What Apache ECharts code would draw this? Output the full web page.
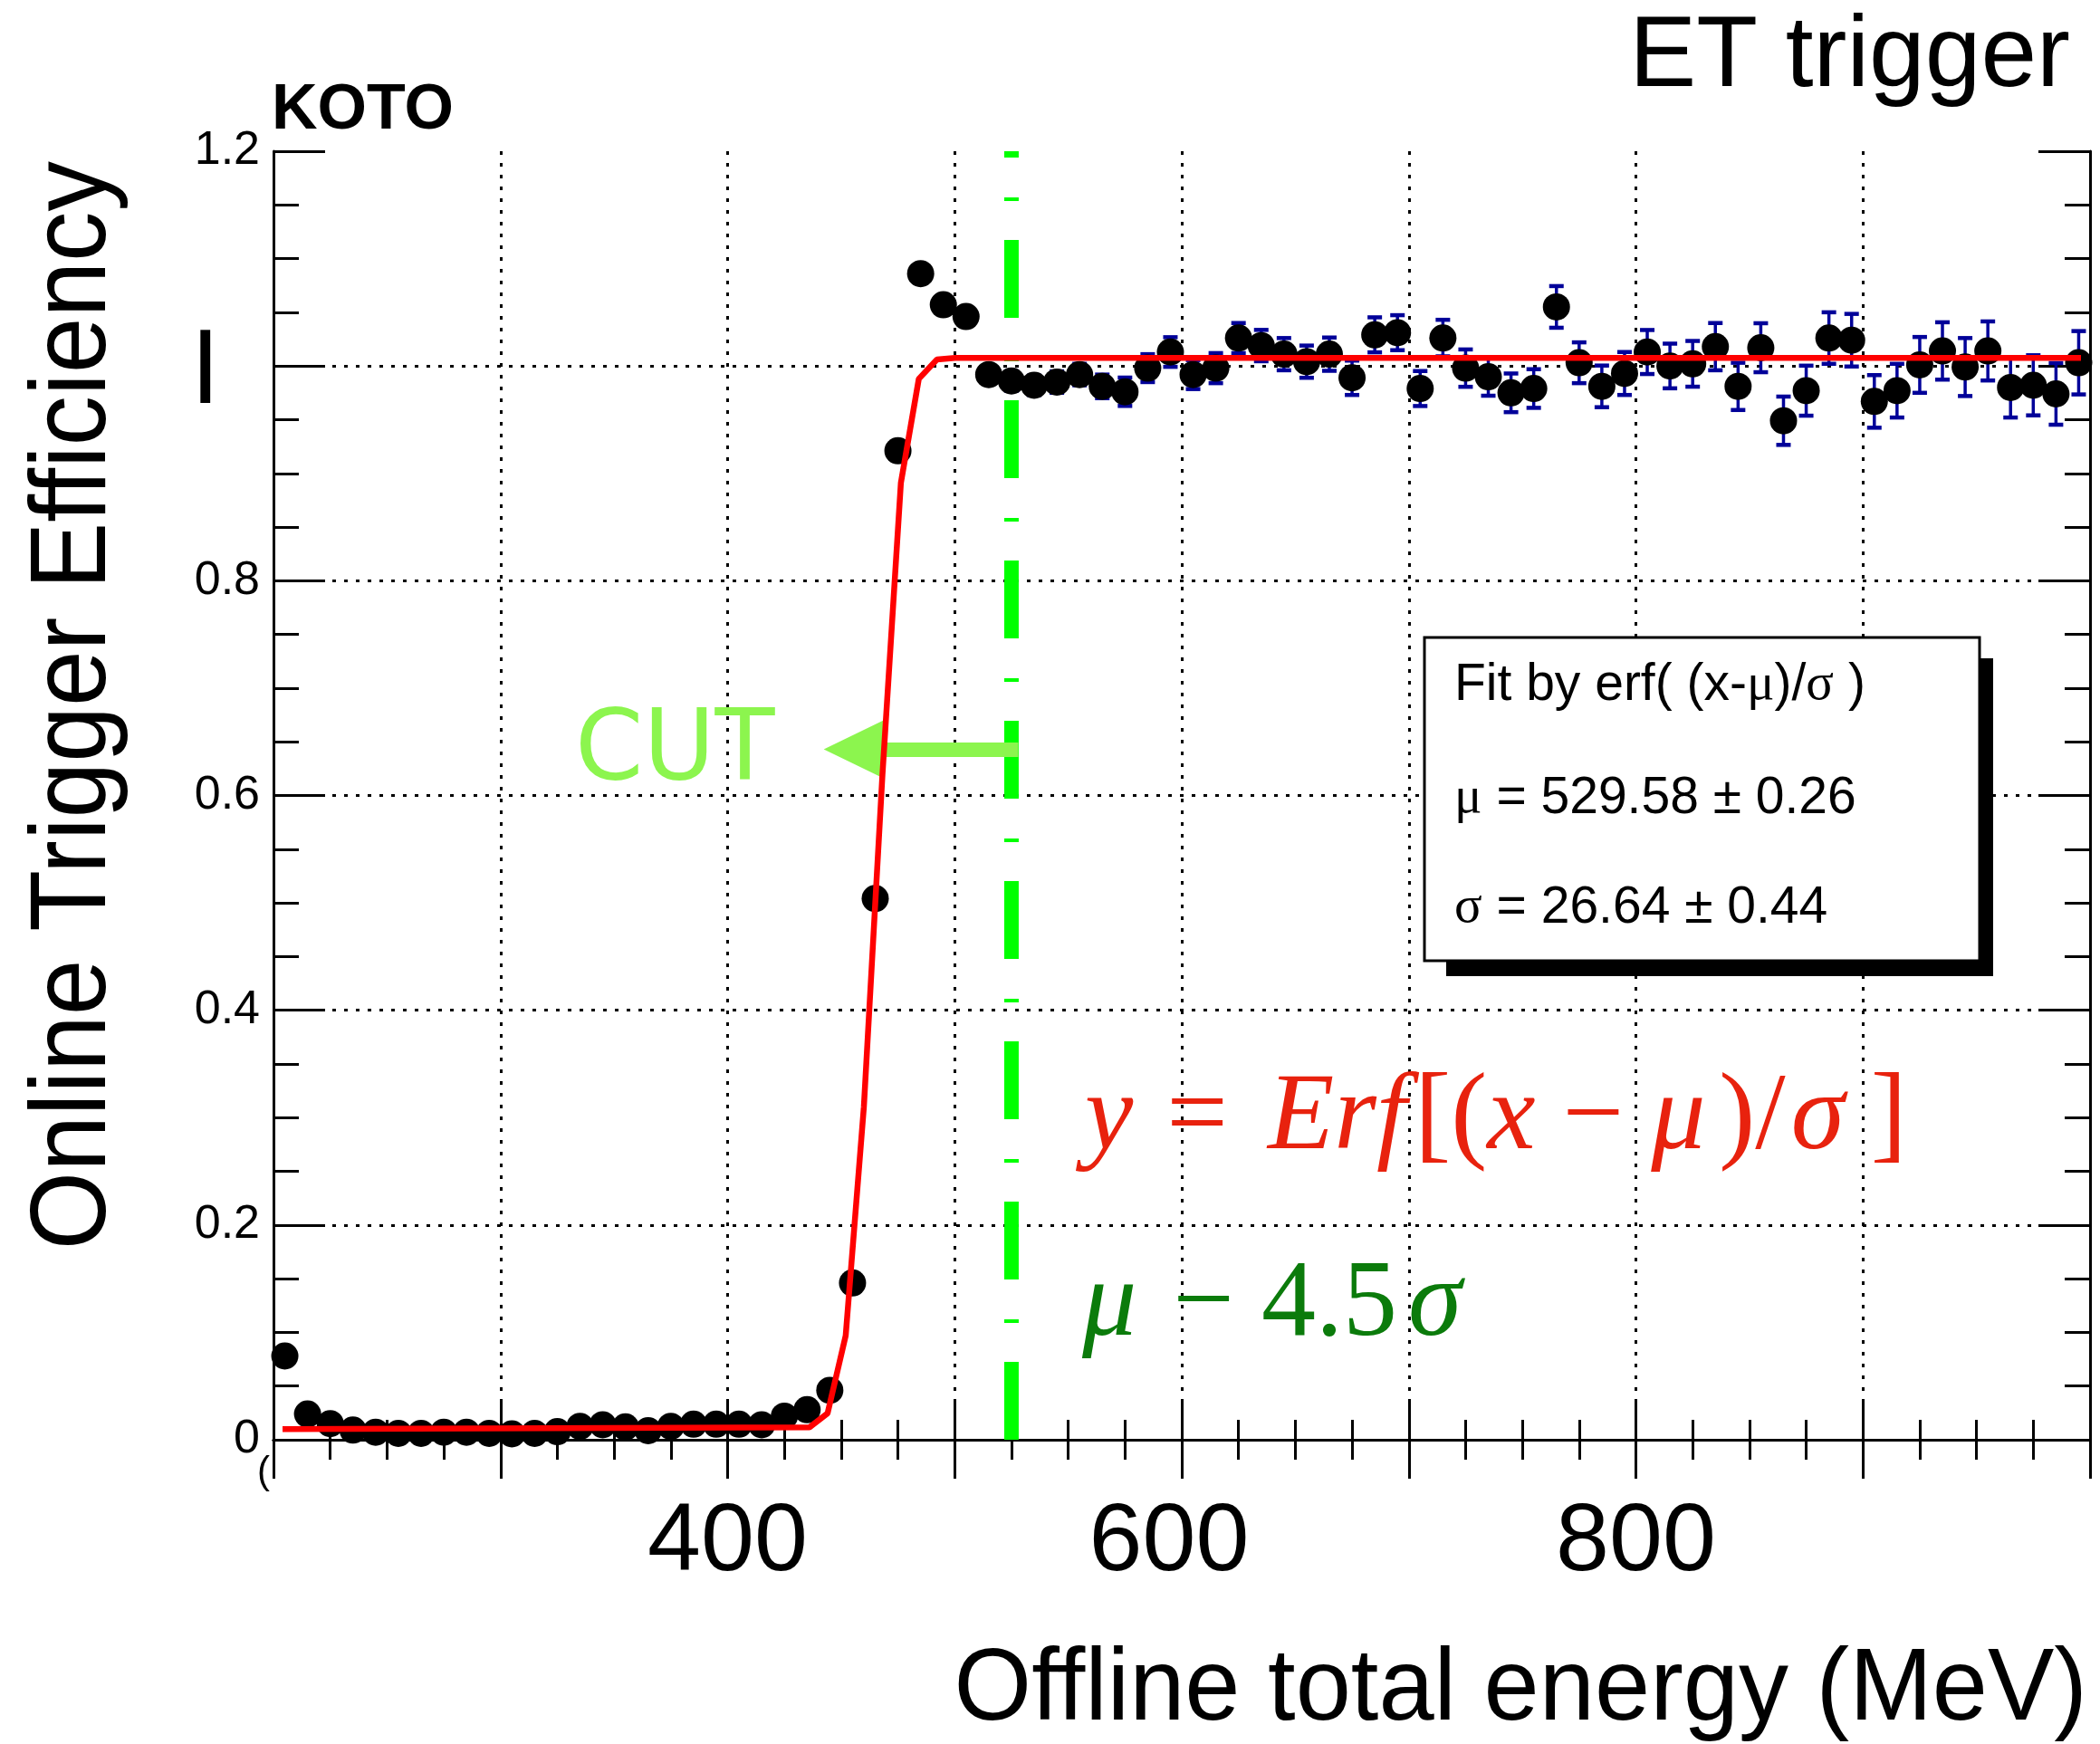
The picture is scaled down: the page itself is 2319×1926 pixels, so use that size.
<!DOCTYPE html>
<html>
<head>
<meta charset="utf-8">
<title>ET trigger efficiency</title>
<script src="https://cdn.jsdelivr.net/npm/echarts@6/dist/echarts.min.js"></script>
<style>
  html, body { margin: 0; padding: 0; background: #fff; }
  #chart { width: 2319px; height: 1926px; }
</style>
</head>
<body>
<div id="chart"></div>
<script>
// 10 MeV bins, centre of each bin (MeV)
const energy = [205, 215, 225, 235, 245, 255, 265, 275, 285, 295,
  305, 315, 325, 335, 345, 355, 365, 375, 385, 395,
  405, 415, 425, 435, 445, 455, 465, 475, 485, 495,
  505, 515, 525, 535, 545, 555, 565, 575, 585, 595,
  605, 615, 625, 635, 645, 655, 665, 675, 685, 695,
  705, 715, 725, 735, 745, 755, 765, 775, 785, 795,
  805, 815, 825, 835, 845, 855, 865, 875, 885, 895,
  905, 915, 925, 935, 945, 955, 965, 975, 985, 995]

const efficiency = [0.078, 0.024, 0.015, 0.009, 0.007, 0.006, 0.006, 0.007, 0.007, 0.006,
  0.0055, 0.006, 0.0075, 0.0125, 0.014, 0.012, 0.0085, 0.0125, 0.0145, 0.0145,
  0.0145, 0.014, 0.022, 0.028, 0.046, 0.146, 0.504, 0.921, 1.086, 1.057,
  1.046, 0.992, 0.986, 0.982, 0.985, 0.992, 0.981, 0.976, 0.998, 1.013,
  0.992, 0.998, 1.026, 1.019, 1.011, 1.004, 1.011, 0.989, 1.029, 1.031,
  0.979, 1.026, 0.998, 0.990, 0.975, 0.979, 1.055, 1.003, 0.981, 0.993,
  1.013, 1.000, 1.002, 1.018, 0.981, 1.017, 0.949, 0.977, 1.026, 1.024,
  0.967, 0.977, 1.001, 1.014, 0.999, 1.014, 0.980, 0.982, 0.974, 1.003]

const effError = [0.004, 0.002, 0.0015, 0.001, 0.001, 0.001, 0.001, 0.001, 0.001, 0.001,
  0.001, 0.001, 0.001, 0.0015, 0.0015, 0.0015, 0.0015, 0.0015, 0.002, 0.002,
  0.002, 0.002, 0.0025, 0.003, 0.004, 0.006, 0.008, 0.006, 0.005, 0.006,
  0.008, 0.008, 0.009, 0.009, 0.010, 0.010, 0.011, 0.0132, 0.013, 0.0138,
  0.0135, 0.014, 0.014, 0.0146, 0.015, 0.015, 0.0155, 0.016, 0.0163, 0.0163,
  0.0163, 0.017, 0.0174, 0.0177, 0.018, 0.018, 0.0194, 0.019, 0.0194, 0.020,
  0.0205, 0.0208, 0.0213, 0.022, 0.022, 0.0228, 0.0225, 0.0233, 0.024, 0.0245,
  0.0245, 0.025, 0.026, 0.0267, 0.027, 0.0275, 0.028, 0.028, 0.0287, 0.0295]

// fitted erf curve, vertices as drawn
const fitX = [204, 436, 444, 452, 460, 468.2, 476.3, 484.2, 492.2, 500.2, 996]
const fitY = [0.010, 0.0115, 0.0245, 0.097, 0.31, 0.62, 0.891, 0.988, 1.006, 1.0076, 1.0076]

// cut position and the arrow pointing to the kept side
const cutEnergy = 525
const cutArrow = { from: [528, 0.643], to: [455.5, 0.643] }

const xTickLabels = [400, 600, 800]
const yTickLabels = { 0: '0', 0.2: '0.2', 0.4: '0.4', 0.6: '0.6', 0.8: '0.8', 1: '{big|I}', 1.2: '1.2' }

const fitMu = '529.58 ± 0.26'
const fitSigma = '26.64 ± 0.44'

const SANS = 'Liberation Sans'
const SERIF = 'Liberation Serif'
const errColor = '#000099'
const fitColor = '#e8220e'
const cutColor = '#0b7b0b'

const points = energy.map((e, i) => [e, efficiency[i]])
const errBars = energy.map((e, i) => [e, efficiency[i], effError[i]])
const fitLine = fitX.map((x, i) => [x, fitY[i]])

const dotted = { color: '#000', width: 3, type: [4, 9] }
const blackLine = { color: '#000', width: 3 }

const chart = echarts.init(document.getElementById('chart'))

chart.setOption({
  animation: false,
  backgroundColor: '#fff',
  grid: { left: 302, top: 167, width: 2006, height: 1423 },
  xAxis: [{
    type: 'value', min: 200, max: 1000, interval: 100, position: 'bottom',
    axisLine: { lineStyle: blackLine },
    axisTick: { inside: true, length: 43, lineStyle: blackLine },
    minorTick: { show: true, splitNumber: 4, length: 22, lineStyle: blackLine },
    splitLine: { show: true, showMinLine: false, showMaxLine: false, lineStyle: dotted },
    axisLabel: {
      margin: 62, fontSize: 106, fontFamily: SANS, color: '#000',
      formatter: v => xTickLabels.includes(v) ? (v === 600 ? '{s|600}' : String(v)) : '',
      rich: { s: { fontSize: 106, fontFamily: SANS, color: '#000', padding: [0, 28, 0, 0] } }
    }
  }, {
    type: 'value', min: 200, max: 1000, interval: 100, position: 'top',
    axisLine: { lineStyle: blackLine },
    axisTick: { inside: true, length: 43, lineStyle: blackLine },
    minorTick: { show: true, splitNumber: 4, length: 22, lineStyle: blackLine },
    splitLine: { show: false },
    axisLabel: { show: false }
  }],
  yAxis: [{
    type: 'value', min: 0, max: 1.2, interval: 0.2, position: 'left',
    axisLine: { lineStyle: blackLine },
    axisTick: { inside: true, length: 57, lineStyle: blackLine },
    minorTick: { show: true, splitNumber: 4, length: 28, lineStyle: blackLine },
    splitLine: { show: true, showMinLine: false, showMaxLine: false, lineStyle: dotted },
    axisLabel: {
      margin: 15, fontSize: 52, fontFamily: SANS, color: '#000',
      formatter: v => yTickLabels[Math.round(v * 10) / 10] ?? '',
      rich: { big: { fontSize: 110, fontFamily: 'DejaVu Sans', color: '#000', padding: [24, 44, 0, 0] } }
    }
  }, {
    type: 'value', min: 0, max: 1.2, interval: 0.2, position: 'right',
    axisLine: { lineStyle: blackLine },
    axisTick: { inside: true, length: 57, lineStyle: blackLine },
    minorTick: { show: true, splitNumber: 4, length: 28, lineStyle: blackLine },
    splitLine: { show: false },
    axisLabel: { show: false }
  }],
  series: [{
    name: 'errors',
    type: 'custom',
    z: 2,
    data: errBars,
    renderItem(params, api) {
      const x = api.value(0), y = api.value(1), e = api.value(2)
      const hi = api.coord([x, y + e])
      const lo = api.coord([x, y - e])
      const cap = 8
      return {
        type: 'group',
        children: [
          { type: 'line', shape: { x1: hi[0], y1: hi[1], x2: lo[0], y2: lo[1] }, style: { stroke: errColor, lineWidth: 3.5 } },
          { type: 'line', shape: { x1: hi[0] - cap, y1: hi[1], x2: hi[0] + cap, y2: hi[1] }, style: { stroke: errColor, lineWidth: 4.5 } },
          { type: 'line', shape: { x1: lo[0] - cap, y1: lo[1], x2: lo[0] + cap, y2: lo[1] }, style: { stroke: errColor, lineWidth: 4.5 } }
        ]
      }
    }
  }, {
    name: 'efficiency',
    type: 'scatter',
    z: 3,
    symbol: 'circle',
    symbolSize: 30,
    itemStyle: { color: '#000', opacity: 1 },
    data: points
  }, {
    name: 'cut',
    type: 'line',
    z: 4,
    symbol: 'none',
    data: [[cutEnergy, 0], [cutEnergy, 1.2]],
    lineStyle: { color: '#00ff00', width: 16, type: [86, 43, 4, 44], cap: 'butt' },
    markLine: {
      silent: true,
      symbol: ['none', 'triangle'],
      symbolSize: [64, 66],
      label: { show: false },
      lineStyle: { color: '#8cf54e', width: 16, type: 'solid' },
      data: [[{ coord: cutArrow.from }, { coord: cutArrow.to }]]
    }
  }, {
    name: 'fit',
    type: 'line',
    z: 5,
    symbol: 'none',
    data: fitLine,
    lineStyle: { color: '#ff0000', width: 6.5 }
  }],
  graphic: { elements: [
    { type: 'text', x: 2286, y: 64, scaleX: 0.99, style: { text: 'ET trigger', font: `112px "${SANS}"`, fill: '#000', align: 'right', verticalAlign: 'middle' } },
    { type: 'text', x: 300, y: 123, style: { text: 'KOTO', font: `bold 70px "${SANS}"`, fill: '#000', align: 'left', verticalAlign: 'middle' } },
    { type: 'text', x: 2305, y: 1868, scaleX: 0.965, style: { text: 'Offline total energy (MeV)', font: `114px "${SANS}"`, fill: '#000', align: 'right', verticalAlign: 'middle' } },
    { type: 'text', x: 83, y: 178, rotation: Math.PI / 2, scaleX: 0.94, style: { text: 'Online Trigger Efficiency', font: `118px "${SANS}"`, fill: '#000', align: 'right', verticalAlign: 'middle' } },
    { type: 'text', x: 284, y: 1626, style: { text: '(', font: `42px "${SANS}"`, fill: '#000', align: 'left', verticalAlign: 'middle' } },
    { type: 'text', x: 635, y: 832, z: 10, style: { text: 'CUT', font: `108px "DejaVu Sans"`, fill: '#8cf54e', align: 'left', verticalAlign: 'middle' } },
    // fit statistics box
    { type: 'rect', z: 20, shape: { x: 1597, y: 727, width: 604, height: 351 }, style: { fill: '#000' } },
    { type: 'rect', z: 21, shape: { x: 1573, y: 704, width: 613, height: 357 }, style: { fill: '#fff', stroke: '#000', lineWidth: 3 } },
    { type: 'text', z: 22, x: 1606, y: 757, style: {
      text: '{n|Fit by erf( (x-}{g|μ}{n|)/}{g|σ}{n| )}', align: 'left', verticalAlign: 'middle',
      rich: { n: { fontSize: 57, fontFamily: SANS, fill: '#000' }, g: { fontSize: 57, fontFamily: SERIF, fill: '#000' } }
    } },
    { type: 'text', z: 22, x: 1606, y: 882, style: {
      text: '{g|μ}{n| = ' + fitMu + '}', align: 'left', verticalAlign: 'middle',
      rich: { n: { fontSize: 57, fontFamily: SANS, fill: '#000' }, g: { fontSize: 57, fontFamily: SERIF, fill: '#000' } }
    } },
    { type: 'text', z: 22, x: 1606, y: 1003, style: {
      text: '{g|σ}{n| = ' + fitSigma + '}', align: 'left', verticalAlign: 'middle',
      rich: { n: { fontSize: 57, fontFamily: SANS, fill: '#000' }, g: { fontSize: 57, fontFamily: SERIF, fill: '#000' } }
    } },
    // formula annotations
    { type: 'text', z: 22, x: 1198, y: 1236, style: {
      text: '{i|y}{e|=}{i|Erf}{k|[(}{i|x}{u| − }{i|μ}{p|)/}{i|σ}{b|]}', align: 'left', verticalAlign: 'middle',
      rich: {
        i: { fontSize: 120, fontFamily: SERIF, fontStyle: 'italic', fill: fitColor },
        u: { fontSize: 120, fontFamily: SERIF, fill: fitColor },
        k: { fontSize: 120, fontFamily: SERIF, fill: fitColor, padding: [0, 0, 0, 9] },
        e: { fontSize: 120, fontFamily: SERIF, fill: fitColor, padding: [0, 44, 0, 37] },
        p: { fontSize: 120, fontFamily: SERIF, fill: fitColor, padding: [0, 6, 0, 15] },
        b: { fontSize: 120, fontFamily: SERIF, fill: fitColor, padding: [0, 0, 0, 29] }
      }
    } },
    { type: 'text', z: 22, x: 1195, y: 1442, style: {
      text: '{i|μ}{u| − 4.5}{s|σ}', align: 'left', verticalAlign: 'middle',
      rich: {
        i: { fontSize: 120, fontFamily: SERIF, fontStyle: 'italic', fill: cutColor },
        u: { fontSize: 120, fontFamily: SERIF, fill: cutColor, padding: [0, 0, 0, 10] },
        s: { fontSize: 120, fontFamily: SERIF, fontStyle: 'italic', fill: cutColor, padding: [0, 0, 0, 12] }
      }
    } }
  ] }
})

window.addEventListener('resize', () => chart.resize())
</script>
</body>
</html>
